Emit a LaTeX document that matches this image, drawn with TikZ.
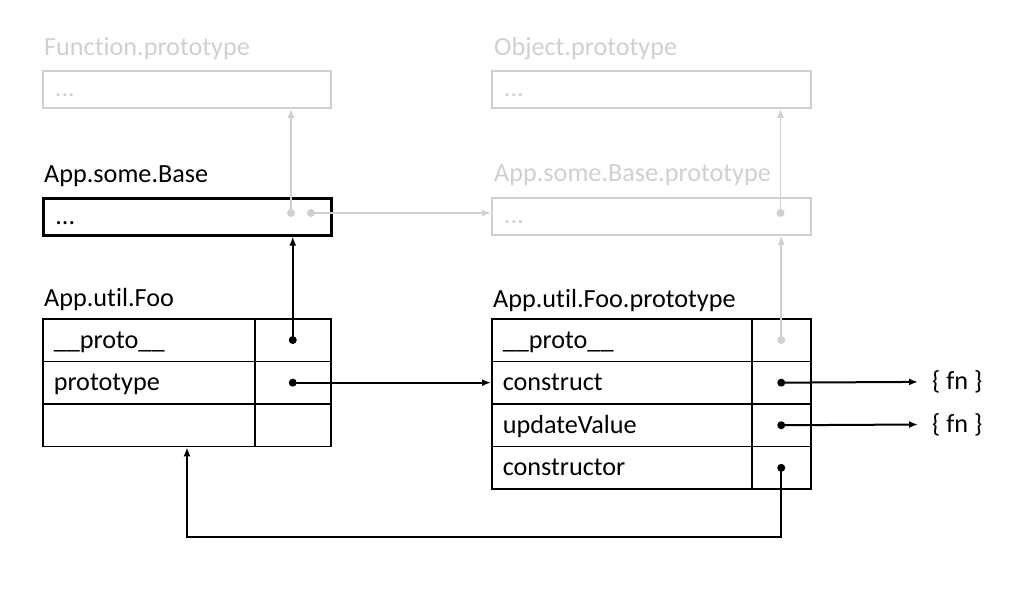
\documentclass[tikz,border=0pt]{standalone}
\usepackage{fontspec}
\setmainfont[Ligatures=NoCommon]{Carlito}
\usetikzlibrary{arrows.meta}
\definecolor{lgray}{RGB}{208,208,208}
\begin{document}
\begin{tikzpicture}[x=1pt,y=-1pt,
  font=\fontsize{26.2}{30}\selectfont,
  lbl/.style={anchor=base west, inner sep=0pt},
  glbl/.style={lbl, text=lgray},
  keyl/.style={draw, line width=1.5pt, anchor=north west, minimum height=42.6pt, inner xsep=11pt, inner ysep=0pt, text width=190pt, align=left, text height=16pt, text depth=0pt},
  keyr/.style={keyl, text width=238pt},
  vall/.style={draw, line width=1.5pt, anchor=north west, minimum height=42.6pt, minimum width=76pt, inner sep=0pt},
  valr/.style={vall, minimum width=59pt},
  objbox/.style={draw, anchor=north west, minimum height=37pt, inner xsep=12pt, inner ysep=0pt, align=left, text height=15pt, text depth=0pt},
  barr/.style={line width=2pt, -{Latex[length=9pt,width=7pt]}},
  garr/.style={line width=1.7pt, draw=lgray, -{Latex[length=9pt,width=7pt]}},
  fnlbl/.style={anchor=west, inner xsep=14pt, inner ysep=0pt, text height=16pt, text depth=0pt}
]
\useasboundingbox (0,0) rectangle (1024,595);
% labels
\node[glbl] (lfp) at (44,55) {Function.prototype};
\node[glbl] (lop) at (494,55) {Object.prototype};
\node[lbl] (lbase) at (44,182) {App.some.Base};
\node[glbl] (lbp) at (494,181) {App.some.Base.prototype};
\node[lbl] (lfoo) at (44,306) {App.util.Foo};
\node[lbl] (lfp2) at (493,307) {App.util.Foo.prototype};
% top boxes
\node[objbox, draw=lgray, line width=1.8pt, text=lgray, text width=264pt] (fp) at (42,70) {...};
\node[objbox, draw=lgray, line width=1.8pt, text=lgray, text width=295pt] (op) at (491,70) {...};
\node[objbox, line width=2.6pt, text width=264pt] (base) at (42,197) {...};
\node[objbox, draw=lgray, line width=1.8pt, text=lgray, text width=295pt] (bp) at (491,197) {...};
% left table
\node[keyl] (lk1) at (42,318) {\_\_proto\_\_};
\node[keyl] (lk2) at (42,360.6) {prototype};
\node[keyl] (lk3) at (42,403.2) {};
\node[vall] (lv1) at (254,318) {};
\node[vall] (lv2) at (254,360.6) {};
\node[vall] (lv3) at (254,403.2) {};
% right table
\node[keyr] (rk1) at (491,318) {\_\_proto\_\_};
\node[keyr] (rk2) at (491,360.6) {construct};
\node[keyr] (rk3) at (491,403.2) {updateValue};
\node[keyr] (rk4) at (491,445.8) {constructor};
\node[valr] (rv1) at (751,318) {};
\node[valr] (rv2) at (751,360.6) {};
\node[valr] (rv3) at (751,403.2) {};
\node[valr] (rv4) at (751,445.8) {};
% fn labels
\node[fnlbl] (fn1) at (918,381.9) {\{ fn \}};
\node[fnlbl] (fn2) at (918,424.5) {\{ fn \}};
% gray connectors
\coordinate (bd1) at (291,213);
\coordinate (bd2) at (311,213);
\coordinate (bpd) at (780.5,213);
\draw[garr] (bd1) -- (bd1 |- fp.south);
\draw[garr] (bd2) -- (bp.west |- bd2);
\draw[garr] (bpd) -- (bpd |- op.south);
\draw[garr] (rv1.center) -- (rv1.center |- bp.south);
\fill[lgray] (bd1) circle (4pt) (bd2) circle (4pt) (bpd) circle (4pt) (rv1.center) circle (4pt);
% black connectors
\draw[barr] (lv1.center) -- (lv1.center |- base.south);
\draw[barr] (lv2.center) -- (rk2.west);
\draw[barr] (rv2.center) -- (fn1.west);
\draw[barr] (rv3.center) -- (fn2.west);
\coordinate (bend) at (187,537);
\draw[barr] (rv4.center) |- (bend) -- (bend |- lk3.south);
\fill (lv1.center) circle (4pt) (lv2.center) circle (4pt) (rv2.center) circle (4pt) (rv3.center) circle (4pt) (rv4.center) circle (4pt);
\end{tikzpicture}
\end{document}
